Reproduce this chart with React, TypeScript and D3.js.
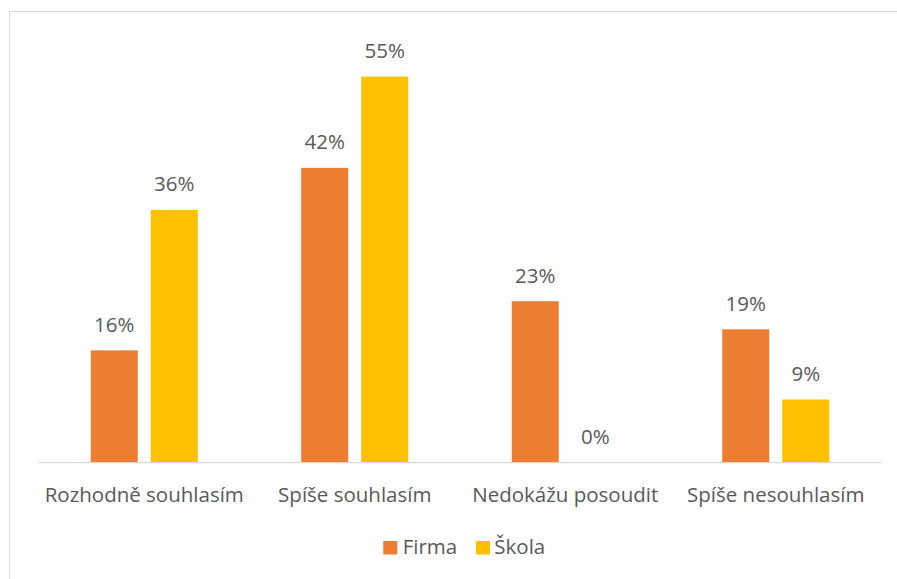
import React from "react";
import * as d3 from "d3";

const categories = ["Rozhodně souhlasím", "Spíše souhlasím", "Nedokážu posoudit", "Spíše nesouhlasím"];
const seriesNames = ["Firma", "Škola"];
const firmaValues = [16, 42, 23, 19];
const skolaValues = [36, 55, 0, 9];
const seriesColors = ["#ED7D31", "#FFC000"];

const W = 897;
const H = 579;
const FONT = "'Open Sans', sans-serif";
const TEXT = "#595959";
const FS = 20.5;

export default function App() {
  const plotLeft = 39;
  const plotRight = 881;
  const baseY = 462.7;
  const topY = baseY - 60 * 7.02;

  const x0 = d3.scaleBand<string>().domain(categories).range([plotLeft, plotRight]).padding(0);
  const groupW = 107;
  const x1 = d3.scaleBand<string>().domain(seriesNames).range([0, groupW]).paddingInner(0.2167).paddingOuter(0);
  const y = d3.scaleLinear().domain([0, 60]).range([baseY, topY]);

  const values = [firmaValues, skolaValues];
  const groupOffset = (x0.bandwidth() - groupW) / 2;

  const legendItems = [
    { name: seriesNames[0], color: seriesColors[0], x: 383.3, tx: 402.7 },
    { name: seriesNames[1], color: seriesColors[1], x: 476, tx: 494.3 },
  ];

  return (
    <div style={{ position: "absolute", left: 0, top: 0 }}>
      <svg width={W} height={H} style={{ display: "block" }}>
        <rect x={0} y={0} width={W} height={H} fill="#ffffff" />
        <rect x={9.5} y={11.5} width={W + 20} height={H + 20} fill="none" stroke="#D9D9D9" strokeWidth={1} />
        {categories.map((c, ci) => (
          <g key={c} transform={`translate(${x0(c)! + groupOffset},0)`}>
            {seriesNames.map((s, si) => {
              const v = values[si][ci];
              const bx = x1(s)!;
              const bw = x1.bandwidth();
              return (
                <g key={s}>
                  <rect x={bx} y={y(v)} width={bw} height={baseY - y(v)} fill={seriesColors[si]} />
                  <text
                    x={bx + bw / 2}
                    y={y(v) - 18.5}
                    textAnchor="middle"
                    fontFamily={FONT}
                    fontSize={FS}
                    fill={TEXT}
                  >
                    {v}%
                  </text>
                </g>
              );
            })}
          </g>
        ))}
        <line x1={plotLeft} x2={plotRight} y1={baseY} y2={baseY} stroke="#D9D9D9" strokeWidth={1.3} />
        {categories.map((c) => (
          <text
            key={c}
            x={x0(c)! + x0.bandwidth() / 2}
            y={502.3}
            textAnchor="middle"
            fontFamily={FONT}
            fontSize={FS}
            fill={TEXT}
          >
            {c}
          </text>
        ))}
        {legendItems.map((l) => (
          <g key={l.name}>
            <rect x={l.x} y={541} width={14} height={13.5} fill={l.color} />
            <text x={l.tx} y={554.3} fontFamily={FONT} fontSize={FS} fill={TEXT}>
              {l.name}
            </text>
          </g>
        ))}
      </svg>
    </div>
  );
}
